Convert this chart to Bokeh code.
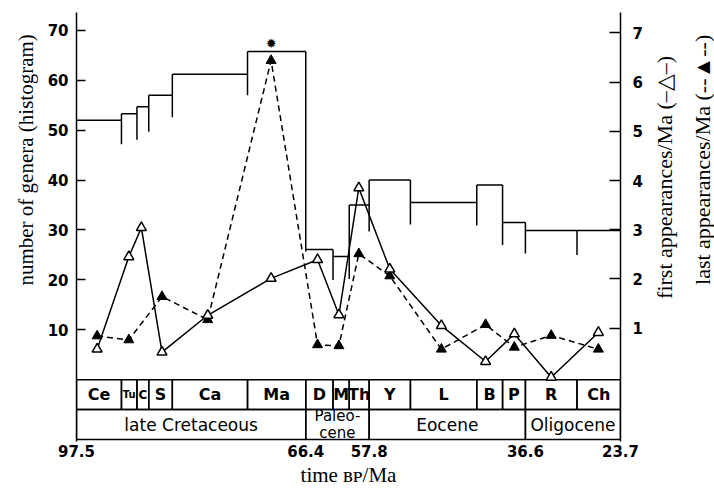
import math
from bokeh.plotting import figure
from bokeh.layouts import row
from bokeh.models import Range1d, LinearAxis, FixedTicker, ColumnDataSource
from bokeh.core.properties import value
from bokeh.embed import file_html
from bokeh.resources import INLINE

# ---- data ----
stage_names = ["Ce", "Tu", "C", "S", "Ca", "Ma", "D", "M", "Th", "Y", "L", "B", "P", "R", "Ch"]
stage_bounds = [97.5, 91.4, 89.3, 87.7, 84.5, 74.3, 66.4, 62.7, 60.5, 57.8, 52.2, 43.2, 39.7, 36.6, 29.6, 23.7]
epoch_names = ["late Cretaceous", "Paleo-\ncene", "Eocene", "Oligocene"]
epoch_bounds = [97.5, 66.4, 57.8, 36.6, 23.7]

# number of genera per stage (histogram) and lower end of the boundary bars
genera = [52.0, 53.3, 54.7, 57.0, 61.2, 65.8, 26.1, 24.7, 35.0, 40.0, 35.5, 39.0, 31.5, 29.9, 29.9]
boundary_low = [47.2, 48.1, 49.7, 52.6, 57.0, 25.7, 20.0, 20.2, 29.7, 31.1, 30.9, 27.0, 25.3, 25.0]

# appearance rates (per Ma), plotted at these ages
point_age = [94.7, 90.4, 88.7, 85.9, 79.7, 71.1, 64.8, 61.9, 59.2, 55.0, 48.0, 42.0, 38.1, 33.1, 26.7]
first_app = [0.57, 2.45, 3.04, 0.51, 1.26, 2.01, 2.39, 1.27, 3.85, 2.20, 1.05, 0.32, 0.88, 0.0, 0.91]
last_app = [0.84, 0.76, None, 1.64, 1.17, 6.44, 0.66, 0.64, 2.51, 2.06, 0.57, 1.07, 0.61, 0.85, 0.57]
star_age = [71.1]
star_rate = [6.79]

genera_ticks = [10, 20, 30, 40, 50, 60, 70]
rate_ticks = [1, 2, 3, 4, 5, 6, 7]
time_ticks = [97.5, 66.4, 57.8, 36.6, 23.7]
time_tick_labels = ["97.5", "66.4", "57.8", "36.6", "23.7"]

left_title = "number of genera (histogram)"
right_titles = ["first appearances/Ma (–△–)", "last appearances/Ma (--▲--)"]
bottom_title = "time ʙᴘ/Ma"

SANS = "DejaVu Sans"
SERIF = "Liberation Serif"
LW = 1.5
H = 489
W_LEFT, W_MAIN, W_RIGHT = 40, 606, 68

# ---------------- main chart ----------------
p = figure(width=W_MAIN, height=H, x_range=Range1d(97.5, 23.7), y_range=Range1d(-12.4, 73.6),
           x_axis_type=None, y_axis_type=None, output_backend="svg", toolbar_location=None,
           min_border_left=36, min_border_right=26, min_border_top=12, min_border_bottom=47)
p.outline_line_color = None
p.background_fill_color = "white"
p.border_fill_color = "white"
p.extra_y_ranges = {"rate": Range1d(-1.306, 7.416)}

def style_axis(ax, tick_in):
    ax.axis_line_width = LW
    ax.major_tick_in = tick_in
    ax.major_tick_out = 0
    ax.major_tick_line_width = LW
    ax.minor_tick_line_color = None
    ax.major_label_text_font = SANS
    ax.major_label_text_font_style = "bold"
    ax.major_label_text_font_size = "15px"
    ax.major_label_text_color = "black"

yax = LinearAxis(ticker=FixedTicker(ticks=genera_ticks),
                 major_label_overrides={t: str(t) for t in genera_ticks})
style_axis(yax, 9)
yax.major_label_standoff = 8
p.add_layout(yax, "left")

rax = LinearAxis(y_range_name="rate", ticker=FixedTicker(ticks=rate_ticks),
                 major_label_overrides={t: str(t) for t in rate_ticks})
style_axis(rax, 11)
rax.major_label_standoff = 12
p.add_layout(rax, "right")

xax = LinearAxis(ticker=FixedTicker(ticks=time_ticks),
                 major_label_overrides=dict(zip(time_ticks, time_tick_labels)),
                 axis_label=bottom_title)
style_axis(xax, 0)
xax.axis_line_color = None
xax.major_tick_line_color = None
xax.major_label_standoff = 3
xax.axis_label_standoff = 3
xax.axis_label_text_font = SERIF
xax.axis_label_text_font_size = "21px"
xax.axis_label_text_font_style = "normal"
xax.axis_label_text_color = "black"
p.add_layout(xax, "below")

# histogram
p.segment(x0=stage_bounds[:-1], x1=stage_bounds[1:], y0=genera, y1=genera,
          line_color="black", line_width=LW)
vb_top = [max(genera[i], genera[i + 1]) for i in range(len(genera) - 1)]
p.segment(x0=stage_bounds[1:-1], x1=stage_bounds[1:-1], y0=vb_top, y1=boundary_low,
          line_color="black", line_width=LW)

# stage / epoch boxes
p.quad(left=stage_bounds[:-1], right=stage_bounds[1:], top=0, bottom=-6,
       fill_color=None, line_color="black", line_width=LW)
p.quad(left=epoch_bounds[:-1], right=epoch_bounds[1:], top=-6, bottom=-12,
       fill_color=None, line_color="black", line_width=LW)

stage_mid = [(stage_bounds[i] + stage_bounds[i + 1]) / 2 for i in range(len(stage_names))]
small = {"Tu": "10px", "C": "12px"}
src_st = ColumnDataSource(dict(x=stage_mid, y=[-3] * len(stage_names), t=stage_names,
                               fs=[small.get(s, "16px") for s in stage_names]))
p.text(x="x", y="y", text="t", source=src_st, text_font=value(SANS), text_font_style="bold",
       text_font_size="fs", text_align="center", text_baseline="middle", text_color="black")

epoch_mid = [(epoch_bounds[i] + epoch_bounds[i + 1]) / 2 for i in range(len(epoch_names))]
src_ep = ColumnDataSource(dict(x=epoch_mid, y=[-9] * len(epoch_names), t=epoch_names,
                               fs=["17px" if "\n" not in e else "15px" for e in epoch_names]))
p.text(x="x", y="y", text="t", source=src_ep, text_font=value(SANS),
       text_font_size="fs", text_align="center", text_baseline="middle", text_color="black",
       text_line_height=0.9)

# appearance rates
p.line(point_age, first_app, y_range_name="rate", line_color="black", line_width=LW)
la_x = [a for a, v in zip(point_age, last_app) if v is not None]
la_y = [v for v in last_app if v is not None]
p.line(la_x, la_y, y_range_name="rate", line_color="black", line_width=LW, line_dash="6 4")
p.scatter(la_x, la_y, y_range_name="rate", marker="triangle", size=10,
          fill_color="black", line_color="black", line_width=1)
p.scatter(point_age, first_app, y_range_name="rate", marker="triangle", size=10,
          fill_color="white", line_color="black", line_width=LW)
p.text(x=star_age, y=star_rate, text=["✹"], y_range_name="rate", text_font=value("DejaVu Sans"),
       text_font_size="13px", text_align="center", text_baseline="middle", text_color="black")

# ---------------- side title strips (pixel coordinates, y measured from the bottom) -----
def strip(width):
    f = figure(width=width, height=H, x_range=Range1d(0, width), y_range=Range1d(0, H),
               x_axis_type=None, y_axis_type=None, output_backend="svg", toolbar_location=None,
               min_border=0)
    f.outline_line_color = None
    f.background_fill_color = "white"
    f.border_fill_color = "white"
    return f

lf = strip(W_LEFT)
lf.text(x=[25], y=[H - 168], text=[left_title], angle=math.pi / 2, text_font=value(SERIF),
        text_font_size="21px", text_align="center", text_baseline="middle", text_color="black")

rf = strip(W_RIGHT)
rf.text(x=[18, 56], y=[H - 188, H - 168], text=right_titles, angle=math.pi / 2,
        text_font=value(SERIF), text_font_size="22px", text_align="center",
        text_baseline="middle", text_color="black")

layout = row(lf, p, rf, spacing=0)
open("out.html", "w").write(file_html(layout, INLINE))
